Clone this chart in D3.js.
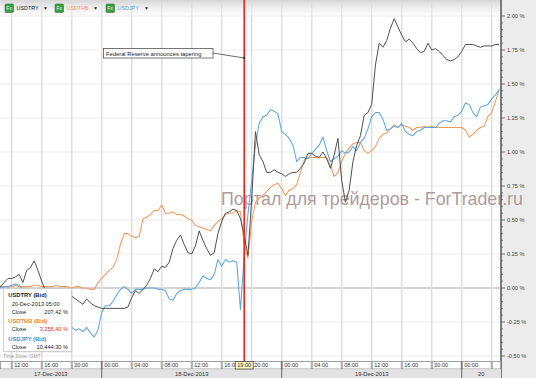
<!DOCTYPE html>
<html lang="en">
<head>
<meta charset="UTF-8">
<title>USDTRY / USDTHB / USDJPY</title>
<style>
  body { margin: 0; background: #fff; }
  svg { display: block; font-family: "Liberation Sans", Arial, sans-serif; }
</style>
</head>
<body>
<script src="https://cdn.jsdelivr.net/npm/d3@7/dist/d3.min.js"></script>
<script>
// % change, one close every 30 min from 17-Dec-2013 10:00 GMT
let startTime = Date.UTC(2013, 11, 17, 10, 0);
let stepMin = 30;

let usdtry = [
  0.01, 0.01, 0.04, 0.07, 0.07, 0.08, 0.10, 0.04, 0.13, 0.15,
  0.20, 0.13, 0.05, -0.02, -0.04, -0.05, -0.04, -0.06, -0.05, -0.07,
  -0.06, -0.08, -0.10, -0.12, -0.08, -0.11, -0.13, -0.14, -0.15, -0.15,
  -0.15, -0.15, -0.15, -0.15, -0.15, -0.14, -0.07, -0.02, -0.04, -0.01,
  0.02, 0.07, 0.14, 0.12, 0.16, 0.15, 0.19, 0.29, 0.35, 0.39,
  0.32, 0.26, 0.25, 0.31, 0.42, 0.35, 0.29, 0.24, 0.26, 0.40,
  0.49, 0.55, 0.56, 0.58, 0.57, 0.51, 0.39, 0.24, 0.65, 1.15,
  0.98, 0.93, 0.85, 0.85, 0.87, 0.85, 0.84, 0.82, 0.84, 0.85,
  0.85, 0.88, 0.92, 0.99, 0.99, 0.97, 0.96, 1.00, 0.95, 0.88,
  0.98, 1.10, 0.79, 0.63, 0.72, 0.93, 1.05, 1.12, 1.27, 1.29,
  1.35, 1.64, 1.80, 1.77, 1.82, 1.91, 1.98, 1.92, 1.86, 1.81,
  1.83, 1.80, 1.76, 1.73, 1.74, 1.80, 1.75, 1.76, 1.74, 1.71,
  1.68, 1.67, 1.68, 1.70, 1.74, 1.79, 1.79, 1.79, 1.78, 1.77,
  1.78, 1.78, 1.78, 1.79, 1.79
];
let usdthb = [
  0.01, 0.01, 0.01, 0.01, 0.01, 0.02, 0.01, 0.01, 0.01, 0.01,
  0.02, 0.02, 0.01, 0.01, 0.01, 0.01, 0.02, 0.01, 0.01, 0.01,
  0.00, 0.01, 0.01, 0.00, 0.00, -0.01, -0.01, 0.04, 0.07, 0.10,
  0.13, 0.15, 0.21, 0.32, 0.40, 0.40, 0.38, 0.37, 0.38, 0.51,
  0.52, 0.54, 0.57, 0.57, 0.61, 0.55, 0.55, 0.56, 0.54, 0.54,
  0.53, 0.51, 0.50, 0.46, 0.45, 0.44, 0.43, 0.42, 0.46, 0.49,
  0.51, 0.54, 0.55, 0.55, 0.57, 0.56, 0.32, 0.22, 0.49, 0.63,
  0.66, 0.68, 0.71, 0.74, 0.76, 0.77, 0.73, 0.68, 0.72, 0.73,
  0.76, 0.85, 0.94, 0.96, 0.96, 0.96, 0.96, 0.96, 0.96, 0.90,
  0.82, 0.85, 0.93, 0.99, 1.03, 1.06, 1.07, 1.07, 1.01, 0.99,
  1.01, 1.04, 1.10, 1.13, 1.14, 1.17, 1.20, 1.18, 1.20, 1.19,
  1.18, 1.16, 1.18, 1.18, 1.19, 1.18, 1.19, 1.18, 1.18, 1.18,
  1.18, 1.18, 1.18, 1.18, 1.18, 1.16, 1.11, 1.13, 1.16, 1.18,
  1.19, 1.26, 1.29, 1.37, 1.46
];
let usdjpy = [
  0.00, 0.00, 0.01, 0.01, 0.02, 0.03, 0.02, -0.01, -0.06, -0.10,
  -0.15, -0.18, -0.21, -0.22, -0.24, -0.25, -0.27, -0.28, -0.29, -0.29,
  -0.29, -0.31, -0.30, -0.32, -0.29, -0.33, -0.36, -0.31, -0.18, -0.13,
  -0.13, -0.10, -0.05, -0.01, 0.01, -0.01, -0.04, -0.01, -0.01, -0.01,
  0.00, 0.00, 0.00, -0.01, -0.01, -0.02, -0.08, -0.09, -0.04, -0.02,
  -0.01, -0.01, -0.01, 0.00, 0.04, 0.09, 0.07, 0.06, 0.10, 0.21,
  0.16, 0.21, 0.19, 0.20, 0.19, -0.16, 0.24, 0.54, 0.79, 1.05,
  1.21, 1.26, 1.27, 1.31, 1.30, 1.28, 1.15, 1.13, 1.10, 1.05,
  0.93, 0.96, 0.96, 0.95, 0.99, 1.02, 1.05, 1.11, 1.01, 0.93,
  0.95, 0.97, 1.01, 0.99, 1.00, 1.04, 1.01, 1.07, 1.10, 1.17,
  1.26, 1.29, 1.29, 1.24, 1.16, 1.17, 1.19, 1.18, 1.21, 1.15,
  1.13, 1.12, 1.15, 1.16, 1.18, 1.18, 1.18, 1.18, 1.21, 1.23,
  1.23, 1.22, 1.26, 1.27, 1.30, 1.36, 1.35, 1.29, 1.26, 1.33,
  1.34, 1.35, 1.39, 1.42, 1.46
];

let names = ["USDTRY", "USDTHB", "USDJPY"];
let colors = ["#474747", "#f29a5e", "#5ea7e0"];
let yTicks = [-0.5, -0.25, 0, 0.25, 0.5, 0.75, 1, 1.25, 1.5, 1.75, 2];
let dayLabels = ["17-Dec-2013", "18-Dec-2013", "19-Dec-2013", "20"];
let tipTime = "20-Dec-2013 05:00";
let tipCloses = ["207.42 %", "3,255.40 %", "10,444.30 %"];
let eventTime = Date.UTC(2013, 11, 18, 19, 0);
let eventText = "Federal Reserve announces tapering";
let watermark = "Портал для трейдеров - ForTrader.ru";

let width = 536, height = 378;
let plotR = 501, plotB = 361;

let svg = d3.select("body").append("svg")
  .attr("width", width)
  .attr("height", height);

let x = d3.scaleUtc()
  .domain([new Date(Date.UTC(2013, 11, 17, 12)), new Date(Date.UTC(2013, 11, 20, 4))])
  .range([11.7, 491.7]);
let y = d3.scaleLinear().domain([-0.5, 2]).range([356, 16]);

let toSeries = arr => arr.map((v, i) => ({ t: new Date(startTime + i * stepMin * 60000), v: v }));
let allSeries = [usdtry, usdthb, usdjpy].map(toSeries);

let defs = svg.append("defs");
defs.append("clipPath").attr("id", "plot")
  .append("rect").attr("x", 0).attr("y", 0).attr("width", plotR).attr("height", plotB);
let grad = defs.append("linearGradient").attr("id", "bar").attr("x1", 0).attr("x2", 0).attr("y1", 0).attr("y2", 1);
grad.append("stop").attr("offset", 0).attr("stop-color", "#d6d6d6").attr("stop-opacity", 1);
grad.append("stop").attr("offset", 1).attr("stop-color", "#ffffff").attr("stop-opacity", 0);

// right panel
svg.append("rect").attr("x", plotR).attr("y", 0).attr("width", width - plotR).attr("height", height).attr("fill", "#ececec");

// grid
let hourTicks = d3.utcHour.every(4).range(x.invert(-30), x.invert(plotR + 1));
svg.append("g").selectAll("line")
  .data(yTicks)
  .enter().append("line")
  .attr("x1", 0).attr("x2", plotR)
  .attr("y1", d => y(d)).attr("y2", d => y(d))
  .attr("stroke", d => d === 0 ? "#c4c4c4" : "#ececec")
  .attr("stroke-width", d => d === 0 ? 1.5 : 1);
svg.append("g").selectAll("line")
  .data(hourTicks.filter(d => x(d) > 0))
  .enter().append("line")
  .attr("x1", d => x(d)).attr("x2", d => x(d))
  .attr("y1", 0).attr("y2", plotB)
  .attr("stroke", "#dedede")
  .attr("stroke-width", 1.5);

// top bar shading
svg.append("rect").attr("x", 0).attr("y", 0).attr("width", plotR).attr("height", 22).attr("fill", "url(#bar)");

// watermark
svg.append("text")
  .attr("x", 221).attr("y", 205)
  .attr("font-size", 17.8)
  .attr("fill", "#a38f8f")
  .attr("fill-opacity", 0.9)
  .text(watermark);

// series
let line = d3.line().x(d => x(d.t)).y(d => y(d.v));
let lines = svg.append("g").attr("clip-path", "url(#plot)");
[1, 2, 0].forEach(k => {
  lines.append("path")
    .datum(allSeries[k])
    .attr("d", line)
    .attr("fill", "none")
    .attr("stroke", colors[k])
    .attr("stroke-width", k === 0 ? 0.95 : 1.05)
    .attr("stroke-linejoin", "round");
});

// event marker
let ex = x(new Date(eventTime));
svg.append("line")
  .attr("x1", ex).attr("x2", ex).attr("y1", 0).attr("y2", plotB)
  .attr("stroke", "#e8281c").attr("stroke-width", 1.6);
svg.append("line")
  .attr("x1", 213).attr("y1", 53).attr("x2", ex).attr("y2", 58)
  .attr("stroke", "#444").attr("stroke-width", 0.8);
svg.append("circle").attr("cx", ex).attr("cy", 58).attr("r", 1.2).attr("fill", "#333");
svg.append("rect")
  .attr("x", 103.5).attr("y", 48.5).attr("width", 109.5).attr("height", 9.5)
  .attr("fill", "#fff").attr("stroke", "#555").attr("stroke-width", 0.8);
svg.append("text")
  .attr("x", 106).attr("y", 55.6)
  .attr("font-size", 5.8).attr("fill", "#222")
  .text(eventText);

// right axis
let ax = svg.append("g");
ax.append("line").attr("x1", plotR).attr("x2", plotR).attr("y1", 0).attr("y2", height)
  .attr("stroke", "#555").attr("stroke-width", 1.5);
ax.selectAll(".minor")
  .data(d3.range(-50, 201, 5).map(d => d / 100))
  .enter().append("line")
  .attr("x1", plotR).attr("x2", (d, i) => plotR + (i % 5 === 0 ? 4 : 2))
  .attr("y1", d => y(d)).attr("y2", d => y(d))
  .attr("stroke", "#555").attr("stroke-width", 0.8);
ax.selectAll("text")
  .data(yTicks)
  .enter().append("text")
  .attr("x", plotR + 6).attr("y", d => y(d) + 2)
  .attr("font-size", 5.6).attr("fill", "#444")
  .text(d => d.toFixed(2) + " %");

// bottom time axis
let bx = svg.append("g");
let edges = [0].concat(hourTicks.map(d => x(d)).filter(v => v > 0 && v < plotR)).concat([plotR]);
bx.append("rect").attr("x", 0).attr("y", plotB).attr("width", plotR).attr("height", height - plotB).attr("fill", "#fff");
bx.selectAll("rect.cell")
  .data(d3.pairs(edges))
  .enter().append("rect")
  .attr("class", "cell")
  .attr("x", d => d[0] + 0.5).attr("y", plotB + 0.5)
  .attr("width", d => d[1] - d[0] - 1).attr("height", 7.5)
  .attr("fill", "#fff").attr("stroke", "#8a8a8a").attr("stroke-width", 0.8);
bx.selectAll("text.hour")
  .data(hourTicks.filter(d => x(d) > 0 && x(d) < plotR - 16))
  .enter().append("text")
  .attr("class", "hour")
  .attr("x", d => x(d) + 2.5).attr("y", plotB + 6.2)
  .attr("font-size", 5.6).attr("fill", "#333")
  .text(d => d3.utcFormat("%H:%M")(d));
bx.append("rect").attr("x", 0).attr("y", plotB + 8.5).attr("width", plotR).attr("height", height - plotB - 8.5)
  .attr("fill", "#e2e2e2");
let dayEdges = [0].concat(d3.utcDay.range(x.invert(0), x.invert(plotR)).map(d => x(d))).concat([plotR]);
bx.selectAll("line.day")
  .data(dayEdges.slice(1, -1))
  .enter().append("line")
  .attr("x1", d => d).attr("x2", d => d).attr("y1", plotB).attr("y2", height)
  .attr("stroke", "#666").attr("stroke-width", 1);
bx.selectAll("text.day")
  .data(d3.pairs(dayEdges))
  .enter().append("text")
  .attr("x", d => (d[0] + d[1]) / 2).attr("y", height - 1.8)
  .attr("text-anchor", "middle")
  .attr("font-size", 5.8).attr("fill", "#333")
  .text((d, i) => dayLabels[i]);

// event time tag
bx.append("rect")
  .attr("x", ex - 9).attr("y", plotB + 0.5).attr("width", 18).attr("height", 7.5)
  .attr("fill", "#ffffc6").attr("stroke", "#444").attr("stroke-width", 0.8);
bx.append("text")
  .attr("x", ex).attr("y", plotB + 6.2).attr("text-anchor", "middle")
  .attr("font-size", 5.6).attr("fill", "#222")
  .text(d3.utcFormat("%H:%M")(new Date(eventTime)));

// toolbar buttons
let btn = svg.append("g").selectAll("g")
  .data(names)
  .enter().append("g")
  .attr("transform", (d, i) => "translate(" + [5, 55, 106][i] + ",4)");
btn.append("rect").attr("width", 8.5).attr("height", 8.5).attr("rx", 1)
  .attr("fill", "#3e9c46").attr("stroke", "#2c7a33").attr("stroke-width", 0.6);
btn.append("text").attr("x", 1.6).attr("y", 6).attr("font-size", 4.6).attr("fill", "#fff").text("Fx");
btn.append("text").attr("x", 11.5).attr("y", 6.3).attr("font-size", 5.4)
  .attr("fill", (d, i) => i === 0 ? "#222" : colors[i])
  .text(d => d);
btn.append("text").attr("x", 38).attr("y", 6.3).attr("font-size", 5).attr("fill", "#333").text("▼");

// tooltip
let tip = svg.append("g");
tip.append("rect")
  .attr("x", 4.5).attr("y", 289.5).attr("width", 68).attr("height", 63)
  .attr("fill", "#bbb").attr("fill-opacity", 0.35);
tip.append("rect")
  .attr("x", 3.5).attr("y", 288.5).attr("width", 68).attr("height", 63)
  .attr("fill", "#fff").attr("stroke", "#c8c8c8").attr("stroke-width", 0.8);
let tipRows = [297, 322.5, 341];
let tipColors = ["#222", "#f07f32", "#3d8fd6"];
names.forEach((n, i) => {
  tip.append("text").attr("x", 8.3).attr("y", tipRows[i])
    .attr("font-size", 5.8).attr("font-weight", "bold")
    .attr("fill", tipColors[i])
    .text(n + " (Bid)");
  let cy = tipRows[i] + (i === 0 ? 16.8 : 8.2);
  tip.append("text").attr("x", 11.7).attr("y", cy).attr("font-size", 5.6).attr("fill", "#222").text("Close");
  tip.append("text").attr("x", 68).attr("y", cy).attr("text-anchor", "end")
    .attr("font-size", 5.6).attr("fill", i === 1 ? "#e8302a" : "#222")
    .text(tipCloses[i]);
});
tip.append("text").attr("x", 11.7).attr("y", 305.5).attr("font-size", 5.6).attr("fill", "#222").text(tipTime);
svg.append("text").attr("x", 3).attr("y", 358.3).attr("font-size", 5).attr("fill", "#9a9a9a").text("Time Zone: GMT");
</script>
</body>
</html>
